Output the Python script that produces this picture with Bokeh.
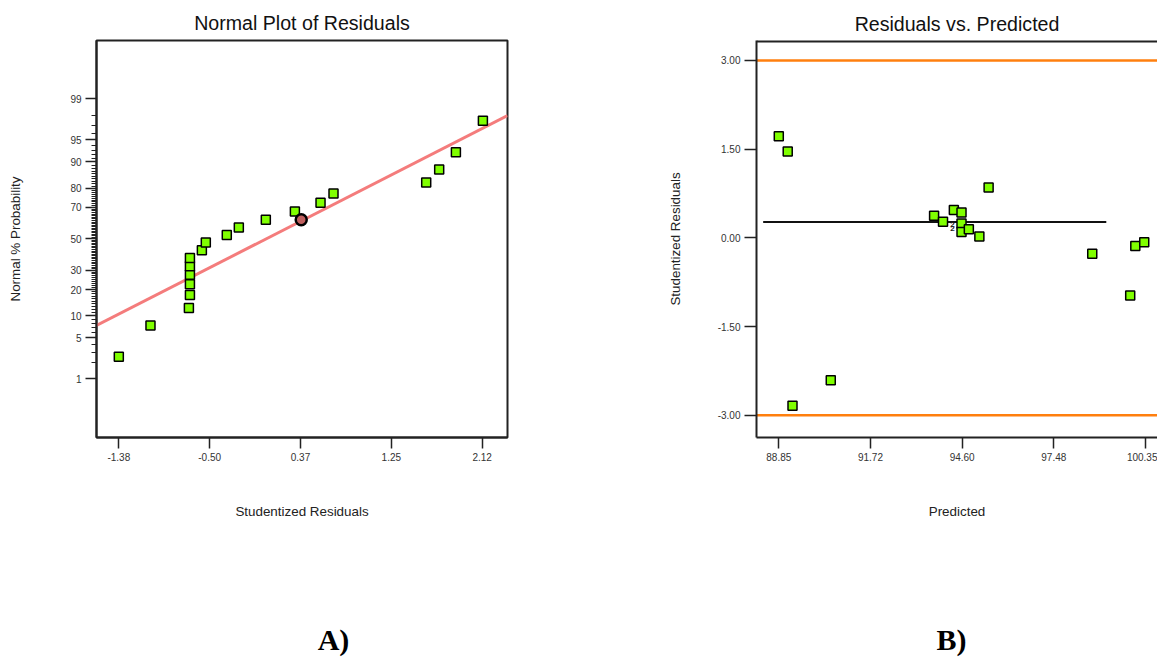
from statistics import NormalDist
from bokeh.plotting import figure
from bokeh.models import Range1d, FixedTicker, Label, Span
from bokeh.layouts import row, column
from bokeh.embed import file_html
from bokeh.resources import INLINE
from bokeh.core.properties import value

# ---------------- data ----------------
# Panel A: normal probability plot
resid_x = [-1.375, -1.07, -0.70, -0.69, -0.69, -0.69, -0.69, -0.69, -0.575, -0.537,
           -0.335, -0.219, 0.041, 0.321, 0.568, 0.693, 1.586, 1.711, 1.872, 2.132]
resid_prob = [2.5, 7.5, 12.5, 17.5, 22.5, 27.5, 32.5, 37.5, 42.5, 47.5,
              52.5, 57.5, 62.5, 67.5, 72.5, 77.5, 82.5, 87.5, 92.5, 97.5]
sel_x = [0.382]
sel_prob = [62.4]
line_x = [-1.59, 2.369]
line_prob = [7.5, 97.97]
a_xticks = [-1.375, -0.5, 0.375, 1.25, 2.125]
a_xlabels = ["-1.38", "-0.50", "0.37", "1.25", "2.12"]
a_ylabels = [1, 5, 10, 20, 30, 50, 70, 80, 90, 95, 99]
a_yminor = [p for p in range(2, 99) if p not in a_ylabels]

# Panel B: residuals vs predicted
pred = [88.85, 89.13, 89.28, 90.48, 93.72, 94.00, 94.34, 94.58, 94.58, 94.58,
        94.81, 95.14, 95.43, 98.68, 99.87, 100.03, 100.31]
stud_res = [1.72, 1.46, -2.84, -2.41, 0.372, 0.271, 0.469, 0.428, 0.242, 0.10,
            0.147, 0.022, 0.851, -0.271, -0.976, -0.140, -0.073]
count_x = [94.30, 94.30]
count_y = [0.22, 0.15]
count_txt = ["2", "2"]
mean_x = [88.36, 99.12]
mean_y = [0.27, 0.27]
limit_vals = [3.0, -3.0]
b_xticks = [88.85, 91.725, 94.60, 97.475, 100.35]
b_xlabels = ["88.85", "91.72", "94.60", "97.48", "100.35"]
b_yticks = [-3.0, -1.5, 0.0, 1.5, 3.0]
b_ylabels = ["-3.00", "-1.50", "0.00", "1.50", "3.00"]
panel_tags = ["A)", "B)"]

nd = NormalDist()
def zq(p):
    return nd.inv_cdf(p / 100.0)

FONT = "Liberation Sans"
FRAME = "#222222"
LABEL = "#333333"
GREEN = "#80FF00"


def style_axis(ax, tick_out=11):
    ax.axis_line_color = FRAME
    ax.axis_line_width = 2
    ax.major_tick_line_color = FRAME
    ax.major_tick_line_width = 1.5
    ax.major_tick_in = 0
    ax.major_tick_out = tick_out
    ax.minor_tick_line_color = FRAME
    ax.minor_tick_line_width = 1
    ax.minor_tick_in = 0
    ax.minor_tick_out = 5
    ax.major_label_text_font = FONT
    ax.major_label_text_font_size = "10px"
    ax.major_label_text_color = LABEL
    ax.major_label_standoff = 4
    ax.axis_label_text_font = FONT
    ax.axis_label_text_font_size = "13.4px"
    ax.axis_label_text_font_style = "normal"
    ax.axis_label_text_color = "#222222"


def title(p, text, standoff):
    p.title.text = text
    p.title.text_font = FONT
    p.title.text_font_size = "19.6px"
    p.title.text_font_style = "normal"
    p.title.text_color = "#111111"
    p.title.align = "center"
    p.title.standoff = standoff


def tag_fig(width, text, sx):
    f = figure(width=width, height=57, x_range=Range1d(0, 1), y_range=Range1d(0, 1),
               x_axis_type=None, y_axis_type=None, output_backend="svg", toolbar_location=None,
               min_border=0, min_border_left=0, min_border_right=0,
               min_border_top=0, min_border_bottom=0)
    f.outline_line_color = None
    f.xgrid.visible = False
    f.ygrid.visible = False
    f.add_layout(Label(x=sx, y=18, x_units="screen", y_units="screen", text=text,
                       text_font="Liberation Serif", text_font_style="bold",
                       text_font_size="30px", text_color="black",
                       text_align="center", text_baseline="middle"))
    return f


# ---------------- panel A ----------------
p1 = figure(width=660, height=600, x_range=Range1d(-1.59, 2.369), y_range=Range1d(-3.30, 3.295),
            output_backend="svg", toolbar_location=None,
            min_border_left=96, min_border_right=153, min_border_top=40, min_border_bottom=163)
p1.xgrid.visible = False
p1.ygrid.visible = False
p1.outline_line_color = FRAME
p1.outline_line_width = 2
title(p1, "Normal Plot of Residuals", 13)

p1.line([line_x[0], line_x[1]], [zq(line_prob[0]), zq(line_prob[1])], line_color="#F47C7C", line_width=3)
p1.scatter(resid_x, [zq(v) for v in resid_prob], marker="square", size=9,
           fill_color=GREEN, line_color="black", line_width=1.5)
p1.scatter(sel_x, [zq(v) for v in sel_prob], marker="circle", size=11,
           fill_color="#C0605F", line_color="black", line_width=2.5)

style_axis(p1.xaxis[0])
p1.xaxis[0].ticker = FixedTicker(ticks=a_xticks)
p1.xaxis[0].major_label_overrides = dict(zip(a_xticks, a_xlabels))
p1.xaxis[0].axis_label = "Studentized Residuals"
p1.xaxis[0].axis_label_standoff = 40

style_axis(p1.yaxis[0])
yt = [zq(v) for v in a_ylabels]
p1.yaxis[0].ticker = FixedTicker(ticks=yt, minor_ticks=[zq(v) for v in a_yminor])
p1.yaxis[0].major_label_overrides = {t: str(v) for t, v in zip(yt, a_ylabels)}
p1.yaxis[0].axis_label = "Normal % Probability"
p1.yaxis[0].axis_label_standoff = 44

# ---------------- panel B ----------------
b_yrange = Range1d(-3.377, 3.338)
p2 = figure(width=497, height=600, x_range=Range1d(88.151, 100.726), y_range=b_yrange,
            output_backend="svg", toolbar_location=None,
            min_border_left=96, min_border_right=0, min_border_top=40, min_border_bottom=163)
p2.xgrid.visible = False
p2.ygrid.visible = False
p2.outline_line_color = None
title(p2, "Residuals vs. Predicted", 12)

for lv in limit_vals:
    p2.line([88.151, 100.726], [lv, lv], line_color="#FF7F0E", line_width=2.5)
p2.line(mean_x, mean_y, line_color="#111111", line_width=2)
p2.scatter(pred, stud_res, marker="square", size=9,
           fill_color=GREEN, line_color="black", line_width=1.5)
p2.text(count_x, count_y, text=count_txt, text_font=value(FONT), text_font_size="8px",
        text_font_style="bold", text_color="#222222", text_align="center", text_baseline="middle")
# top border of the (clipped) frame
p2.add_layout(Span(location=b_yrange.end, dimension="width", line_color=FRAME, line_width=4))

style_axis(p2.xaxis[0])
p2.xaxis[0].ticker = FixedTicker(ticks=b_xticks)
p2.xaxis[0].major_label_overrides = dict(zip(b_xticks, b_xlabels))
p2.xaxis[0].axis_label = "Predicted"
p2.xaxis[0].axis_label_standoff = 40

style_axis(p2.yaxis[0], tick_out=12)
p2.yaxis[0].ticker = FixedTicker(ticks=b_yticks)
p2.yaxis[0].major_label_overrides = dict(zip(b_yticks, b_ylabels))
p2.yaxis[0].axis_label = "Studentized Residuals"
p2.yaxis[0].axis_label_standoff = 32

t1 = tag_fig(660, panel_tags[0], 333)
t2 = tag_fig(497, panel_tags[1], 291)

layout = column(row(p1, p2), row(t1, t2))
open("out.html", "w").write(file_html(layout, INLINE))
